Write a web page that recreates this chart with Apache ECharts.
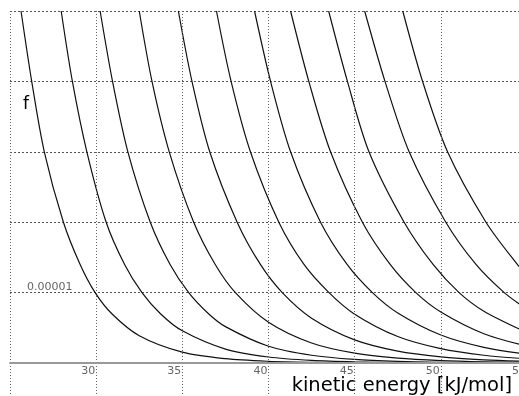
<!DOCTYPE html>
<html><head><meta charset="utf-8">
<script src="https://cdn.jsdelivr.net/npm/echarts@6/dist/echarts.min.js"></script>
<style>html,body{margin:0;padding:0;background:#fff}#c{width:519px;height:396px}</style>
</head><body><div id="c"></div>
<script>
// values of f in units of 1e-5, x in kJ/mol
const UNIT = 1e-5;
const curve1 = [[25.64,5],[26.26,4],[26.99,3],[28.10,2],[29.07,1.4],[29.94,1],[30.91,0.7],[32.5,0.388],[35,0.154],[37.5,0.061],[40,0.024],[42.5,0.0096],[45,0.0038],[47.5,0.0015],[50,0.0006],[55,0.0001]];
const curve2 = [[27.97,5],[28.62,4],[29.46,3],[30.58,2],[31.65,1.4],[32.66,1],[33.73,0.7],[35,0.457],[37.5,0.198],[40,0.0855],[42.5,0.037],[45,0.016],[47.5,0.0069],[50,0.003],[52.5,0.0013],[55,0.0006]];
const curve3 = [[30.23,5],[30.95,4],[31.84,3],[33.14,2],[34.29,1.4],[35.37,1],[36.52,0.7],[37.5,0.517],[40,0.238],[42.5,0.110],[45,0.0505],[47.5,0.0233],[50,0.0107],[52.5,0.0049],[55,0.0023]];
const curve4 = [[32.50,5],[33.24,4],[34.24,3],[35.66,2],[36.91,1.4],[38.08,1],[40,0.579],[42.5,0.284],[45,0.139],[47.5,0.068],[50,0.0335],[52.5,0.0164],[55,0.0081]];
const curve5 = [[34.77,5],[35.56,4],[36.59,3],[38.18,2],[39.53,1.4],[40.80,1],[42.5,0.637],[45,0.329],[47.5,0.169],[50,0.0873],[52.5,0.045],[55,0.0232]];
const curve6 = [[36.98,5],[37.83,4],[38.95,3],[40.60,2],[42.06,1.4],[43.51,1],[45,0.694],[47.5,0.376],[50,0.204],[52.5,0.110],[55,0.060]];
const curve7 = [[39.19,5],[40.12,4],[41.28,3],[43.02,2],[44.56,1.4],[46.03,1],[47.5,0.711],[50,0.398],[52.5,0.223],[55,0.125]];
const curve8 = [[41.28,5],[42.34,4],[43.60,3],[45.45,2],[47.06,1.4],[48.55,1],[50,0.725],[52.5,0.416],[55,0.239]];
const curve9 = [[43.49,5],[44.58,4],[45.83,3],[47.87,2],[49.55,1.4],[51.06,1],[52.5,0.736],[55,0.432]];
const curve10 = [[45.58,5],[46.76,4],[48.16,3],[50.29,2],[52.04,1.4],[53.68,1],[55,0.764]];
const curve11 = [[47.79,5],[48.94,4],[50.39,3],[52.62,2],[54.44,1.4],[55,1.25]];
const curves = [curve1,curve2,curve3,curve4,curve5,curve6,curve7,curve8,curve9,curve10,curve11];
const yLabelValues = [1];                 // only labelled level (×1e-5)
const xMin = 25, xMax = 55, xStep = 5;
const yMin = 0, yMax = 5, yStep = 1;
const xTitle = 'kinetic energy [kJ/mol]';
const yTitle = 'f';

const chart = echarts.init(document.getElementById('c'), null, {renderer:'canvas'});
const vGrid = {show: true, lineStyle: {color: '#666', type: [1, 2], width: 1}};
const series = curves.map((c, i) => ({
  type: 'line',
  xAxisIndex: 0, yAxisIndex: 0,
  data: c.map(p => [p[0], p[1]*UNIT]),
  showSymbol: false,
  smooth: 0.3,
  clip: true,
  lineStyle: {color: '#111', width: 1.2},
  z: 3,
  silent: true
}));
series.push({type: 'line', xAxisIndex: 1, yAxisIndex: 1, data: [], silent: true});
chart.setOption({
  animation: false,
  backgroundColor: '#fff',
  grid: [
    {left: 10, right: -8, top: 11, bottom: 33, containLabel: false, outerBoundsMode: 'none'},
    {left: 10, right: -8, top: 363, bottom: 0, containLabel: false, outerBoundsMode: 'none'}
  ],
  xAxis: [{
    gridIndex: 0,
    type: 'value', min: xMin, max: xMax, interval: xStep,
    axisLine: {show: true, lineStyle: {color: '#999', width: 2}},
    axisTick: {show: false},
    splitLine: vGrid,
    z: 5,
    axisLabel: {
      color: '#666', fontSize: 11, fontFamily: 'DejaVu Sans',
      align: 'right', margin: 3, padding: [0, 1, 0, 0],
      formatter: v => (v === xMin ? '' : String(v))
    }
  }, {
    gridIndex: 1,
    type: 'value', min: xMin, max: xMax, interval: xStep,
    axisLine: {show: false}, axisTick: {show: false}, axisLabel: {show: false},
    splitLine: vGrid
  }],
  yAxis: [{
    gridIndex: 0,
    type: 'value', min: yMin*UNIT, max: yMax*UNIT, interval: yStep*UNIT,
    axisLine: {show: false}, axisTick: {show: false},
    splitLine: {show: true, lineStyle: {color: '#555', type: [2, 2], width: 1}},
    axisLabel: {
      show: true, inside: true, margin: 17, color: '#666', fontSize: 11,
      fontFamily: 'DejaVu Sans', verticalAlign: 'bottom',
      formatter: v => (yLabelValues.some(t => Math.abs(t*UNIT - v) < 1e-12) ? v.toFixed(5) : '')
    }
  }, {
    gridIndex: 1, type: 'value', min: 0, max: 1, show: false, splitLine: {show: false}
  }],
  graphic: [
    {type: 'text', left: 23, top: 96, style: {text: yTitle, fontSize: 17, fill: '#000', fontFamily: 'DejaVu Sans'}},
    {type: 'text', right: 7, bottom: 0, style: {text: xTitle, fontSize: 19.5, fill: '#000', fontFamily: 'DejaVu Sans'}}
  ],
  series: series
});
</script></body></html>
